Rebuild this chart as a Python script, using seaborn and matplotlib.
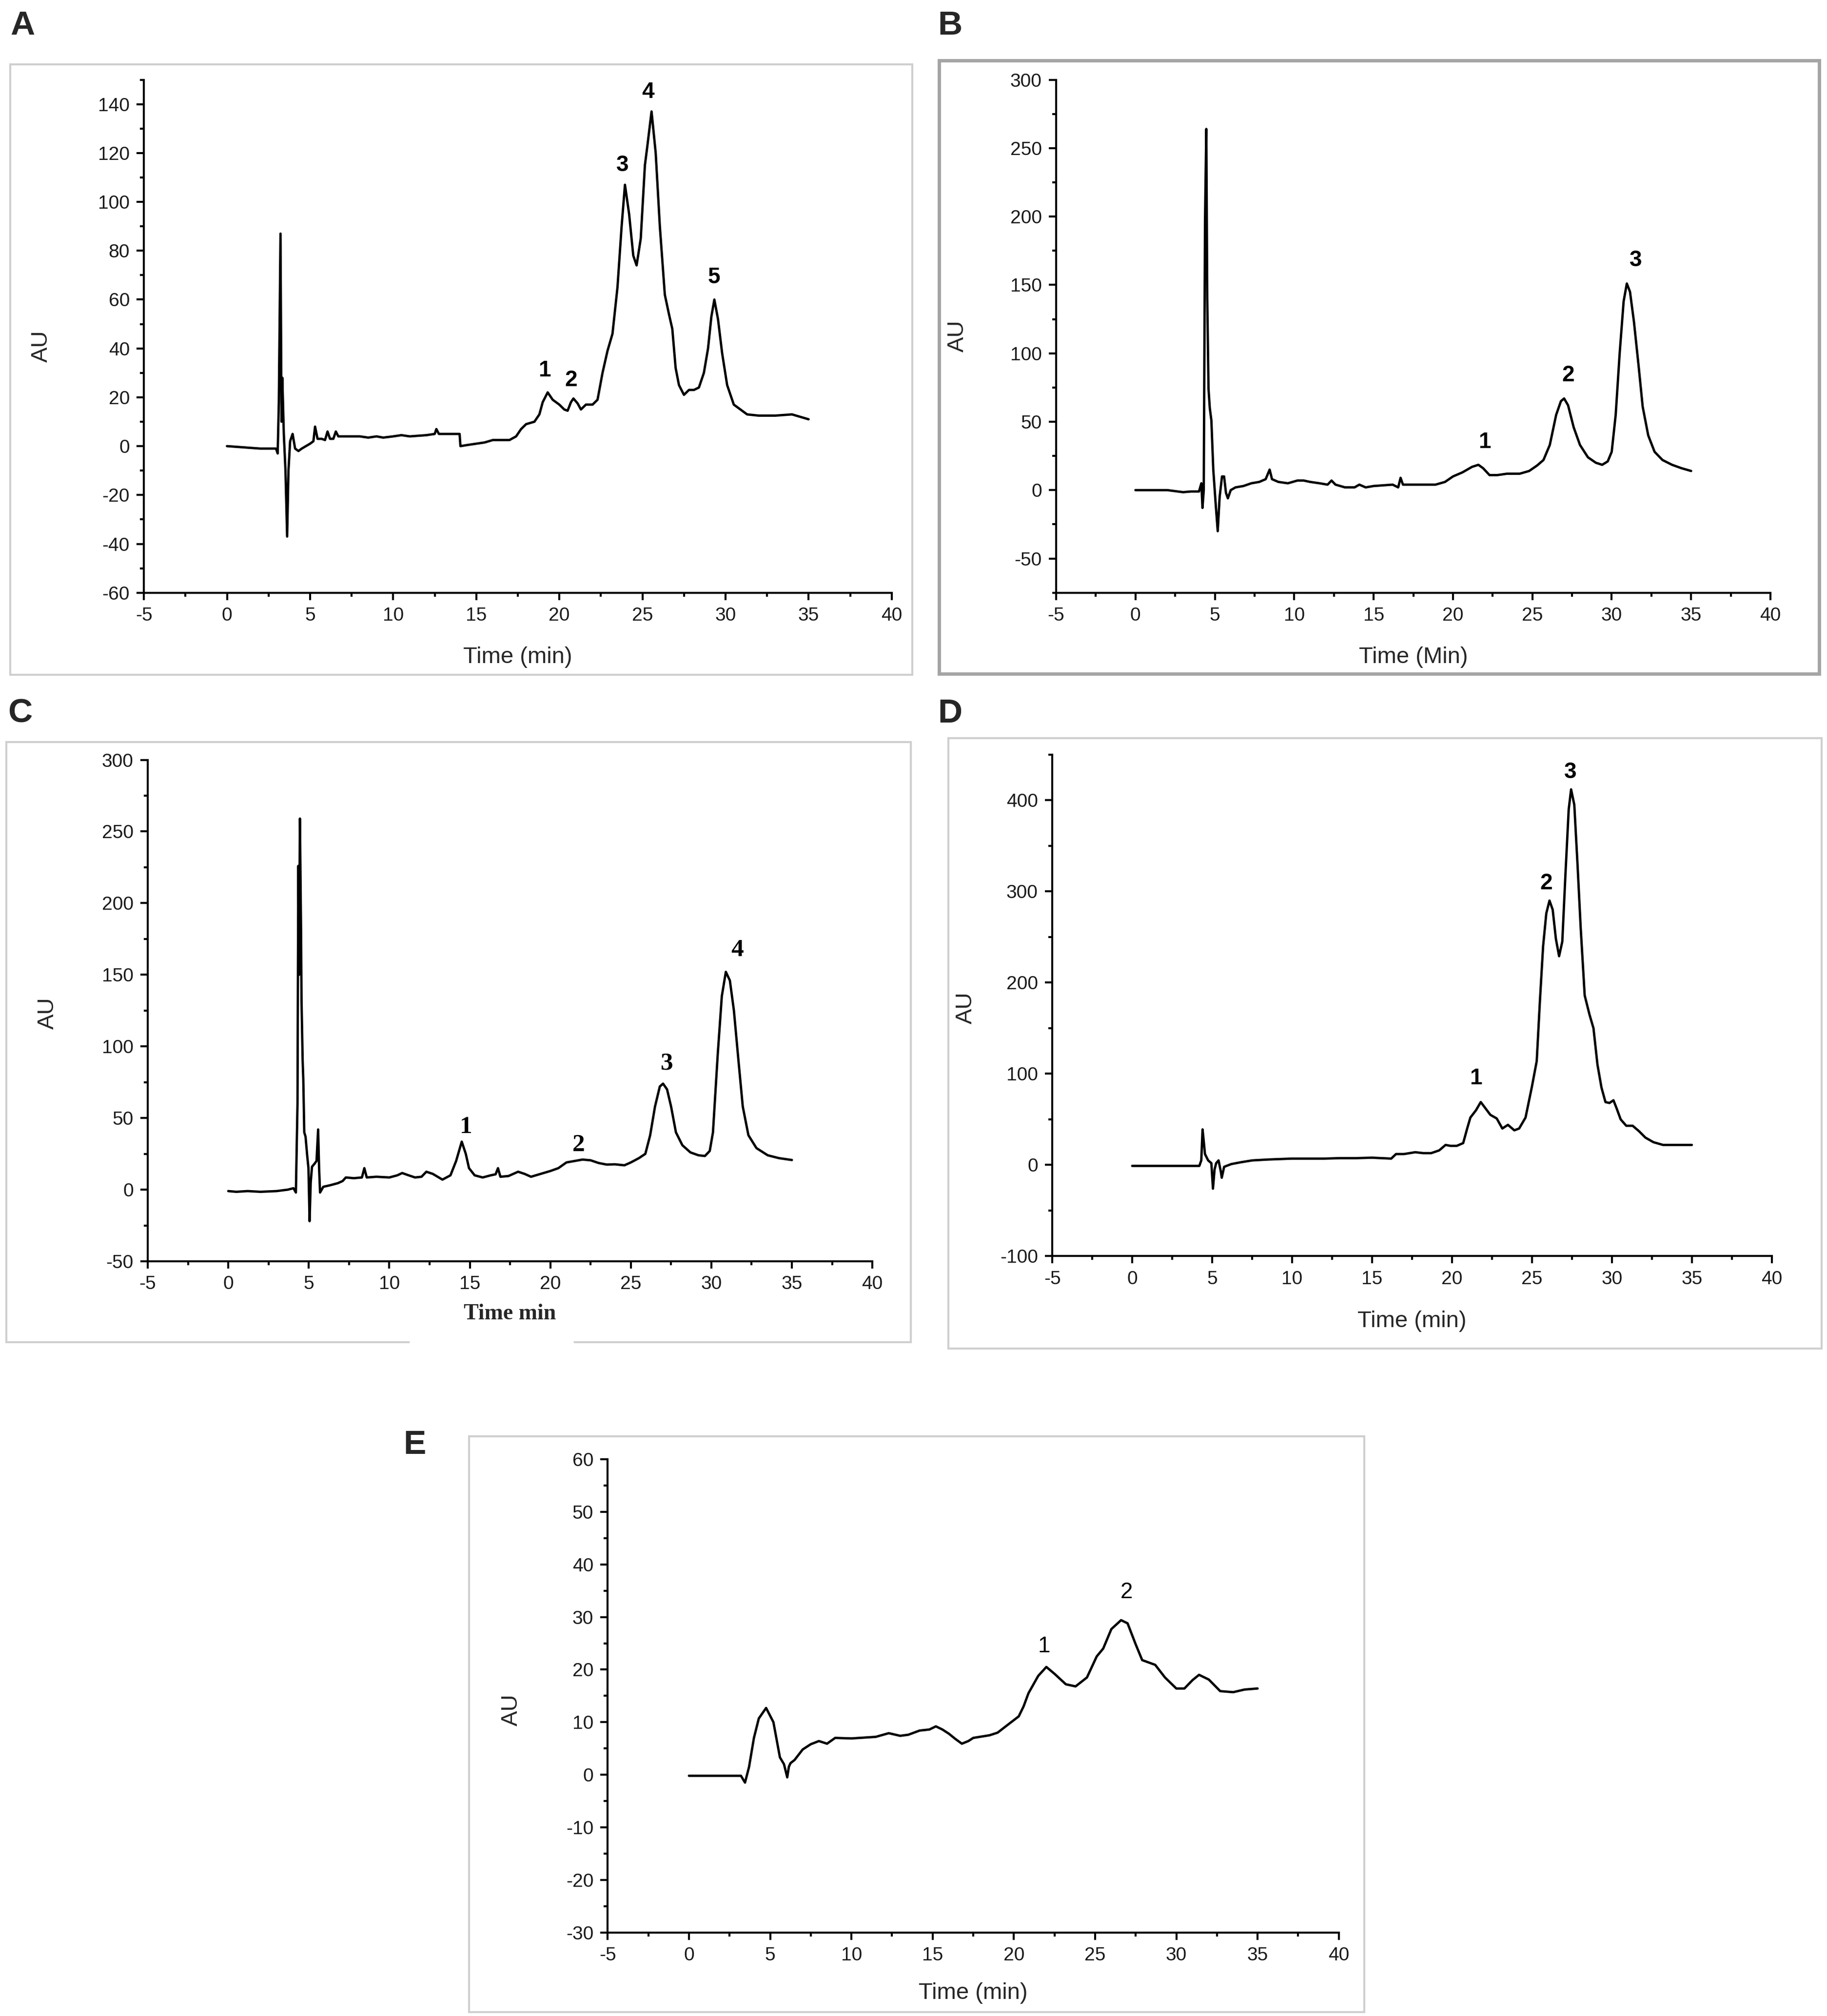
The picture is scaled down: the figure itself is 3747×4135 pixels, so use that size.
import numpy as np
import pandas as pd
import seaborn as sns
import matplotlib
matplotlib.use("Agg")
import matplotlib.pyplot as plt
from matplotlib.patches import Rectangle
from matplotlib.lines import Line2D
from matplotlib.ticker import MultipleLocator

# chromatogram A
a_time = [0, 1, 2, 2.95, 3.05, 3.12, 3.22, 3.28, 3.33, 3.42, 3.52, 3.62, 3.7, 3.8, 3.95, 4.1, 4.3,
          4.5, 5.0, 5.2, 5.3, 5.45, 5.7, 5.9, 6.05, 6.2, 6.4, 6.55, 6.7, 7, 8, 8.5, 9, 9.4, 10, 10.5,
          11, 12, 12.5, 12.6, 12.75, 13, 13.5, 14.0, 14.05, 14.5, 15, 15.5, 16, 16.5, 17, 17.4, 17.7,
          18.0, 18.5, 18.8, 19.0, 19.3, 19.6, 20.0, 20.3, 20.5, 20.7, 20.85, 21.1, 21.3, 21.6, 22.0,
          22.3, 22.6, 22.9, 23.2, 23.5, 23.75, 23.95, 24.2, 24.45, 24.65, 24.9, 25.15, 25.3, 25.55,
          25.8, 26.05, 26.35, 26.6, 26.8, 27.0, 27.2, 27.5, 27.8, 28.1, 28.4, 28.7, 28.95, 29.15,
          29.33, 29.55, 29.8, 30.1, 30.5, 30.9, 31.3, 32, 33, 34, 34.5, 35]
a_au = [0, -0.5, -1, -1, -3, 18, 87, 10, 28, 5, -10, -37, -10, 2, 5, -1, -2,
        -1, 1, 2, 8, 3, 3, 2.5, 6, 3, 3, 6, 4, 4, 4, 3.5, 4, 3.5, 4, 4.5,
        4, 4.5, 5, 7, 5, 5, 5, 5, 0, 0.5, 1, 1.5, 2.5, 2.5, 2.5, 4, 7,
        9, 10, 13, 18, 22, 19, 17, 15, 14.5, 18, 19.5, 17.5, 15, 17, 17,
        19, 30, 39, 46, 65, 90, 107, 95, 78, 74, 85, 115, 123, 137,
        120, 90, 62, 54, 48, 32, 25, 21, 23, 23, 24, 30, 40, 53,
        60, 52, 38, 25, 17, 15, 13, 12.5, 12.5, 13, 12, 11]
a_peaks = ["1", "2", "3", "4", "5"]
a_peak_x = [19.1, 20.7, 23.8, 25.35, 29.3]
a_peak_y = [31, 27, 115, 145, 69]

# chromatogram B
b_time = [0, 1, 2, 3, 3.5, 4.0, 4.15, 4.22, 4.3, 4.38, 4.46, 4.52, 4.6, 4.68, 4.78, 4.9, 5.05, 5.18,
          5.3, 5.45, 5.58, 5.7, 5.82, 6.0, 6.3, 6.8, 7.3, 7.8, 8.2, 8.45, 8.6, 9, 9.6, 10.2, 10.6, 11,
          11.6, 12.1, 12.35, 12.6, 13.2, 13.8, 14.1, 14.5, 15, 15.6, 16.2, 16.55, 16.7, 16.85, 17.5,
          18.2, 18.9, 19.5, 20, 20.6, 21.2, 21.6, 21.9, 22.3, 22.8, 23.4, 24.2, 24.8, 25.3, 25.7,
          26.1, 26.5, 26.8, 27.0, 27.25, 27.6, 28.0, 28.5, 29.0, 29.4, 29.75, 30.0, 30.25, 30.5,
          30.75, 30.95, 31.15, 31.4, 31.7, 31.95, 32.3, 32.7, 33.2, 33.8, 34.4, 35]
b_au = [0, 0, 0, -1.5, -1, -1, 5, -13, 0, 197, 264, 140, 74, 60, 51, 15, -10, -30,
        -5, 10, 10, -2, -6, 0, 2, 3, 5, 6, 8, 15, 8, 6, 5, 7, 7, 6,
        5, 4, 7, 4, 2, 2, 4, 2, 3, 3.5, 4, 2, 9, 4, 4,
        4, 4, 6, 10, 13, 17, 18.5, 16, 11, 11, 12, 12, 14, 18, 22,
        33, 55, 65, 67, 62, 46, 33, 24, 20, 18.5, 21, 28, 55, 100,
        138, 151, 145, 123, 90, 61, 40, 28, 22, 18.5, 16, 14]
b_peaks = ["1", "2", "3"]
b_peak_x = [22.0, 27.25, 31.5]
b_peak_y = [35, 84, 168]

# chromatogram C
c_time = [0, 0.5, 1.2, 2, 3, 3.7, 4.05, 4.2, 4.3, 4.35, 4.4, 4.45, 4.52, 4.55, 4.62, 4.66, 4.72,
          4.8, 4.9, 4.98, 5.05, 5.12, 5.2, 5.35, 5.48, 5.58, 5.64, 5.7, 5.9, 6.3, 6.8, 7.1, 7.3,
          7.8, 8.3, 8.45, 8.6, 9.2, 10, 10.5, 10.8, 11.2, 11.6, 12.0, 12.3, 12.7, 13.3, 13.8,
          14.15, 14.5, 14.75, 14.95, 15.3, 15.8, 16.3, 16.6, 16.75, 16.9, 17.4, 18.0, 18.4, 18.8,
          19.4, 20, 20.5, 21.0, 21.5, 22.0, 22.5, 23, 23.5, 24, 24.6, 25, 25.5, 25.9, 26.2, 26.5,
          26.8, 27.0, 27.25, 27.5, 27.8, 28.2, 28.7, 29.2, 29.6, 29.9, 30.1, 30.4, 30.65, 30.9,
          31.15, 31.4, 31.7, 31.95, 32.3, 32.8, 33.5, 34.2, 35]
c_au = [-1, -1.5, -1, -1.5, -1, 0, 1, -2, 60, 226, 150, 259, 180, 132, 90, 77, 40,
        37, 24, 15, -22, 5, 16, 18, 20, 42, 15, -2, 2, 3, 4.5, 6, 8.5,
        8, 8.5, 15, 8.5, 9, 8.5, 10, 11.6, 10, 8.5, 9, 12.5, 11, 7, 10,
        20, 33.5, 25, 15, 10, 8.5, 10, 10.7, 15, 9, 9.5, 12.5, 11, 9,
        11, 13, 15, 19, 20, 21, 20.5, 18.6, 17.5, 17.7, 17, 19, 22, 25, 38, 58,
        72, 74, 70, 58, 40, 31, 26, 24, 23.5, 27, 40, 95, 135, 152,
        146, 125, 88, 58, 38, 29, 24, 22, 20.7]
c_peaks = ["1", "2", "3", "4"]
c_peak_x = [14.75, 21.75, 27.25, 31.6]
c_peak_y = [43.5, 31, 88, 167]

# chromatogram D
d_time = [0, 2, 4.2, 4.32, 4.4, 4.48, 4.55, 4.75, 4.95, 5.05, 5.15, 5.25, 5.4, 5.55, 5.6, 5.75,
          6.2, 6.8, 7.5, 8.5, 10, 12, 13, 14, 15, 16.2, 16.5, 17, 17.7, 18.2, 18.7, 19.2, 19.6,
          19.9, 20.3, 20.7, 20.95, 21.15, 21.5, 21.8, 22.1, 22.4, 22.8, 23.15, 23.5, 23.9, 24.2,
          24.6, 25.0, 25.3, 25.5, 25.7, 25.9, 26.1, 26.3, 26.5, 26.7, 26.9, 27.1, 27.3, 27.45,
          27.65, 27.85, 28.05, 28.3, 28.6, 28.85, 29.1, 29.35, 29.6, 29.85, 30.1, 30.3, 30.55,
          30.9, 31.3, 31.7, 32.1, 32.6, 33.2, 34, 35]
d_au = [-1, -1, -1, 5, 39, 25, 12, 5, 2, -26, -5, 2, 5, -8, -14, -2,
        1, 3, 5, 6, 7, 7, 7.5, 7.5, 8, 7, 12, 12, 14, 13, 13, 16, 22,
        21, 21, 24, 40, 52, 60, 69, 62, 55, 51, 40, 44, 38, 40,
        52, 86, 114, 180, 240, 276, 290, 280, 248, 229, 245, 320, 390, 412,
        395, 330, 260, 186, 165, 150, 110, 85, 69, 68, 71, 62, 50,
        43, 43, 37, 30, 25, 22, 22, 22]
d_peaks = ["1", "2", "3"]
d_peak_x = [21.5, 25.9, 27.4]
d_peak_y = [95, 309, 431]

# chromatogram E
e_time = [0, 1, 2, 3.2, 3.45, 3.7, 4.0, 4.3, 4.75, 5.2, 5.6, 5.85, 6.05, 6.15, 6.25, 6.5, 7.0,
          7.5, 8.0, 8.5, 9.0, 10, 11.0, 11.5, 12.3, 13.0, 13.5, 14.2, 14.8, 15.2, 15.6, 16.0,
          16.4, 16.8, 17.2, 17.5, 18.5, 19.0, 19.5, 20.3, 20.6, 20.9, 21.5, 22.0, 22.5, 23.2,
          23.8, 24.5, 25.1, 25.5, 26.0, 26.6, 27.0, 27.5, 27.9, 28.7, 29.3, 30.0, 30.5, 31.0,
          31.4, 32.0, 32.7, 33.5, 34.2, 35]
e_au = [-0.2, -0.2, -0.2, -0.2, -1.5, 1.5, 7, 10.7, 12.7, 10, 3.3, 2, -0.5, 1.5, 2.2, 2.8, 4.8,
        5.8, 6.4, 5.9, 7, 6.9, 7.1, 7.2, 7.9, 7.4, 7.6, 8.4, 8.6, 9.2, 8.6, 7.8,
        6.8, 5.9, 6.4, 7, 7.5, 8, 9.2, 11.1, 13, 15.5, 18.8, 20.5, 19.2, 17.2,
        16.8, 18.5, 22.5, 24, 27.7, 29.4, 28.8, 24.8, 21.8, 20.9, 18.5, 16.4, 16.4, 18,
        19, 18.1, 15.9, 15.7, 16.2, 16.4]
e_peaks = ["1", "2"]
e_peak_x = [21.85, 26.95]
e_peak_y = [24.4, 34.7]

sns.set_theme(style="ticks")
plt.rcParams["font.family"] = ["Liberation Sans Narrow", "Liberation Sans", "DejaVu Sans"]
plt.rcParams["axes.unicode_minus"] = False

W, H = 1422, 1568  # layout grid measured on the reference


def frac(x0, y0, x1, y1):
    return [x0 / W, 1 - y1 / H, (x1 - x0) / W, (y1 - y0) / H]


fig = plt.figure(figsize=(37.47, 41.35), dpi=100)

panels = [
    dict(letter="A", t=a_time, y=a_au, pk=a_peaks, px=a_peak_x, py=a_peak_y,
         ax=(112, 62, 694, 461), frame=(8, 50, 710, 525), lpos=(8, 8), ylim=(-60, 150), ymaj=20,
         xlabel="Time (min)", ylc=(-0.137, 0.48), xlc=(0.5, -0.105), frame_col="#cfcfcf", frame_lw=3),
    dict(letter="B", t=b_time, y=b_au, pk=b_peaks, px=b_peak_x, py=b_peak_y,
         ax=(822, 62, 1378, 461), frame=(731, 47, 1416, 524), lpos=(730, 8), ylim=(-75, 300), ymaj=50,
         xlabel="Time (Min)", ylc=(-0.138, 0.5), xlc=(0.5, -0.105), frame_col="#a5a5a5", frame_lw=5),
    dict(letter="C", t=c_time, y=c_au, pk=c_peaks, px=c_peak_x, py=c_peak_y,
         ax=(115, 591, 679, 981), frame=(5, 577, 709, 1044), lpos=(6, 543), ylim=(-50, 300), ymaj=50,
         xlabel="Time min", ylc=(-0.138, 0.495), xlc=(0.5, -0.085), frame_col="#cfcfcf", frame_lw=3),
    dict(letter="D", t=d_time, y=d_au, pk=d_peaks, px=d_peak_x, py=d_peak_y,
         ax=(819, 587, 1379, 977), frame=(738, 574, 1418, 1049), lpos=(730, 543), ylim=(-100, 450), ymaj=100,
         xlabel="Time (min)", ylc=(-0.12, 0.495), xlc=(0.5, -0.108), frame_col="#cfcfcf", frame_lw=3),
    dict(letter="E", t=e_time, y=e_au, pk=e_peaks, px=e_peak_x, py=e_peak_y,
         ax=(473, 1135, 1042, 1503), frame=(365, 1117, 1062, 1565), lpos=(314, 1112), ylim=(-30, 60), ymaj=10,
         xlabel="Time (min)", ylc=(-0.132, 0.47), xlc=(0.5, -0.106), frame_col="#cfcfcf", frame_lw=3),
]

for p in panels:
    fx0, fy0, fx1, fy1 = p["frame"]
    fig.add_artist(Rectangle((fx0 / W, 1 - fy1 / H), (fx1 - fx0) / W, (fy1 - fy0) / H,
                             transform=fig.transFigure, fill=False,
                             edgecolor=p["frame_col"], linewidth=p["frame_lw"]))
    fig.text(p["lpos"][0] / W, 1 - p["lpos"][1] / H, p["letter"], ha="left", va="top",
             fontsize=50, fontweight="bold", family=["Liberation Sans", "DejaVu Sans"])

    ax = fig.add_axes(frac(*p["ax"]))
    df = pd.DataFrame({"Time": p["t"], "AU": p["y"]})
    sns.lineplot(data=df, x="Time", y="AU", ax=ax, color="black", linewidth=3.5,
                 estimator=None, sort=False)

    ax.set_xlim(-5, 40)
    ax.set_ylim(*p["ylim"])
    ax.xaxis.set_major_locator(MultipleLocator(5))
    ax.xaxis.set_minor_locator(MultipleLocator(2.5))
    ax.yaxis.set_major_locator(MultipleLocator(p["ymaj"]))
    ax.yaxis.set_minor_locator(MultipleLocator(p["ymaj"] / 2))
    ax.tick_params(which="major", direction="out", length=11, width=3, labelsize=28,
                   pad=10, colors="black", labelcolor="#1a1a1a")
    ax.tick_params(which="minor", direction="out", length=6, width=3, colors="black")
    for s in ["top", "right"]:
        ax.spines[s].set_visible(False)
    for s in ["left", "bottom"]:
        ax.spines[s].set_linewidth(3)
        ax.spines[s].set_color("black")

    if p["letter"] == "C":
        ax.set_xlabel(p["xlabel"], fontsize=33, fontweight="bold",
                      family=["Liberation Serif", "DejaVu Serif"])
        pk_font = dict(fontsize=37, fontweight="bold", family=["Liberation Serif", "DejaVu Serif"])
    elif p["letter"] == "E":
        ax.set_xlabel(p["xlabel"], fontsize=34)
        pk_font = dict(fontsize=33)
    else:
        ax.set_xlabel(p["xlabel"], fontsize=34)
        pk_font = dict(fontsize=33, fontweight="bold")
    ax.set_ylabel("AU", fontsize=34)
    ax.yaxis.label.set_va("center")
    ax.xaxis.set_label_coords(*p["xlc"])
    ax.yaxis.set_label_coords(*p["ylc"])

    for lab, x, y in zip(p["pk"], p["px"], p["py"]):
        ax.text(x, y, lab, ha="center", va="center", color="black", **pk_font)

# small break in the bottom edge of the C frame
fig.add_artist(Line2D([320 / W, 445 / W], [1 - 1044 / H, 1 - 1044 / H],
                      transform=fig.transFigure, color="white", linewidth=5))

fig.savefig("out.png", dpi=100, facecolor="white")
